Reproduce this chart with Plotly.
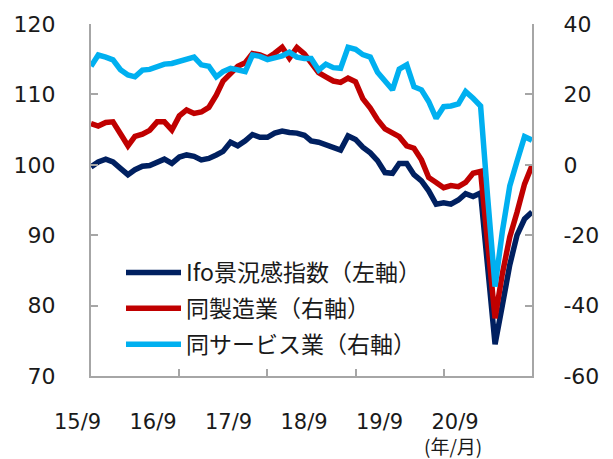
import plotly.graph_objects as go
import pandas as pd

# ---- data (monthly, 2015/9 - 2020/9) ----
months = pd.date_range("2015-09-01", "2020-09-01", freq="MS")

ifo_climate = [
    99.7, 100.4, 100.8, 100.4, 99.5, 98.6, 99.3, 99.8, 99.9, 100.4,
    100.8, 100.2, 101.1, 101.4, 101.2, 100.7, 100.9, 101.4, 101.9, 103.2,
    102.7, 103.4, 104.3, 103.9, 103.9, 104.5, 104.8, 104.6, 104.5, 104.2,
    103.4, 103.2, 102.9, 102.5, 102.1, 104.1, 103.6, 102.5, 101.7, 100.6,
    98.9, 98.8, 100.2, 100.2, 98.6, 97.7, 96.3, 94.4, 94.6, 94.4,
    95.0, 95.9, 95.5, 96.0, 85.5, 74.5, 80.0, 85.8, 90.0, 92.3,
    93.3,
]
manufacturing = [
    11.7, 11.0, 12.0, 12.2, 8.8, 5.4, 8.1, 8.7, 9.8, 12.2,
    12.2, 9.9, 13.9, 15.6, 14.6, 15.0, 16.3, 19.8, 23.8, 26.1,
    28.0, 29.0, 31.6, 31.2, 30.3, 31.7, 33.4, 30.3, 33.3, 31.5,
    29.2, 26.2, 25.0, 23.8, 23.4, 24.6, 23.6, 18.8, 16.1, 12.8,
    10.2, 9.0, 8.0, 5.4, 4.7, 1.4, -3.6, -5.0, -6.5, -5.9,
    -6.2, -5.0, -2.4, -1.9, -22.0, -43.6, -31.0, -20.5, -13.5, -5.5,
    -0.2,
]
services = [
    28.0, 31.2, 30.6, 29.8, 27.0, 25.5, 25.0, 26.9, 27.1, 27.9,
    28.6, 28.8, 29.3, 29.9, 30.6, 28.4, 28.0, 25.0, 26.5, 27.4,
    26.8, 26.5, 31.2, 30.8, 29.9, 30.5, 30.9, 32.0, 30.6, 30.2,
    30.2, 26.9, 28.6, 27.6, 27.4, 33.4, 32.8, 31.3, 30.6, 26.3,
    23.8, 21.3, 27.2, 28.4, 22.2, 21.3, 18.0, 13.2, 16.5, 16.7,
    17.3, 20.8, 18.9, 16.7, -9.0, -34.6, -19.0, -6.0, 1.0, 8.0,
    7.0,
]

series_names = ["Ifo景況感指数（左軸）", "同製造業（右軸）", "同サービス業（右軸）"]
series_colors = ["#002060", "#C00000", "#00B0F0"]
x_tick_labels = ["15/9", "16/9", "17/9", "18/9", "19/9", "20/9"]
left_ticks = [70, 80, 90, 100, 110, 120]
right_ticks = [-60, -40, -20, 0, 20, 40]
right_tick_labels = ["-60", "-40", "-20", "0", "20", "40"]

# ---- figure (page body has an 8px margin, so the figure is 8px smaller) ----
W, H = 605, 451
L, R, T, B = 22, 81, 16, 83
pw = W - L - R
ph = H - T - B


def px_x(p):
    return (p - L) / pw


def px_y(p):
    return 1 - (p - T) / ph


AX = "#A6A6A6"
NUM_FONT = "DejaVu Sans, Noto Sans CJK JP"
JP_FONT = "Noto Sans CJK JP, DejaVu Sans"

fig = go.Figure()
for name, vals, col, ax in zip(series_names, [ifo_climate, manufacturing, services],
                               series_colors, ["y", "y2", "y2"]):
    fig.add_trace(go.Scatter(x=months, y=vals, name=name, mode="lines",
                             legendgroup=name,
                             line=dict(color=col, width=5.5), yaxis=ax))

# carrier for the label-only category axis
fig.add_trace(go.Scatter(x=[None], y=[None], xaxis="x2", yaxis="y",
                         showlegend=False, hoverinfo="skip"))

x0 = px_x(83)
fig.update_layout(
    width=W, height=H,
    margin=dict(l=L, r=R, t=T, b=B, pad=0),
    paper_bgcolor="white", plot_bgcolor="rgba(0,0,0,0)",
    font=dict(family=NUM_FONT, size=21, color="#1a1a1a"),
    showlegend=True,
    legend=dict(x=px_x(113), y=px_y(243), xanchor="left", yanchor="top",
                font=dict(family=JP_FONT, size=23, color="#1a1a1a"),
                bgcolor="rgba(0,0,0,0)", itemwidth=55, tracegroupgap=3),
    xaxis=dict(domain=[x0, 1], range=[months[0], months[-1]], showline=True,
               linecolor=AX, linewidth=2, showgrid=False, zeroline=False,
               ticks="inside", ticklen=7, tickcolor=AX, tickwidth=1.5,
               tickvals=[months[12], months[24], months[36], months[48]],
               showticklabels=False, automargin=False),
    xaxis2=dict(domain=[px_x(31.75), px_x(484.75)], range=[-0.5, 5.5], anchor="y",
                tickvals=list(range(len(x_tick_labels))), ticktext=x_tick_labels,
                showline=False, showgrid=False, zeroline=False, ticks="",
                tickfont=dict(family=NUM_FONT, size=21, color="#1a1a1a"),
                ticklabelstandoff=31, automargin=False, fixedrange=True),
    yaxis=dict(range=[70, 120], tickvals=left_ticks, anchor="x", side="left",
               showline=True, linecolor=AX, linewidth=2, showgrid=False, zeroline=False,
               ticks="inside", ticklen=7, tickcolor=AX, tickwidth=1.5,
               tickfont=dict(family=NUM_FONT, size=22, color="#1a1a1a"),
               ticklabelstandoff=29, automargin=False),
    yaxis2=dict(range=[-60, 40], tickvals=right_ticks, ticktext=right_tick_labels,
                anchor="x", side="right",
                overlaying="y", showline=True, linecolor=AX, linewidth=2,
                showgrid=False, zeroline=False,
                ticks="inside", ticklen=7, tickcolor=AX, tickwidth=1.5,
                tickfont=dict(family=NUM_FONT, size=22, color="#1a1a1a"),
                ticklabelstandoff=25, automargin=False),
    annotations=[dict(text="(年/月)", x=px_x(445), y=px_y(437), xref="paper", yref="paper",
                      showarrow=False, xanchor="center", yanchor="middle",
                      font=dict(family=JP_FONT, size=19, color="#1a1a1a"))],
)

fig.write_html("out.html")
